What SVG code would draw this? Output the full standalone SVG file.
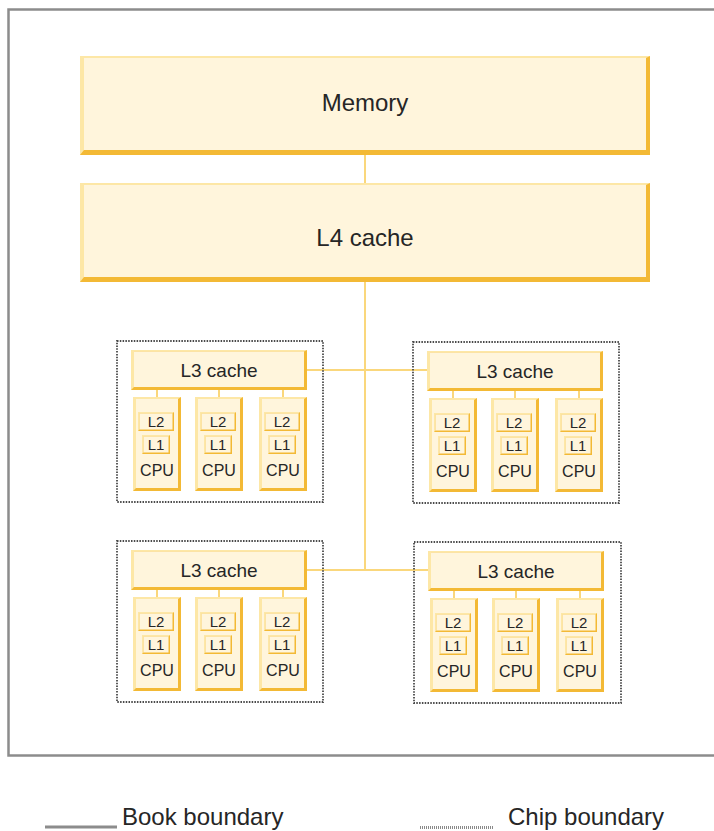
<svg xmlns="http://www.w3.org/2000/svg" width="714" height="831" viewBox="0 0 714 831">
<style>
.dk{fill:#f3b935}
.lt{fill:#fde7a6}
.fl{fill:#fff5dc}
.conn{stroke:#fad77c;stroke-width:2;fill:none}
.chipb{fill:none;stroke:#4a4a4a;stroke-width:1.8;stroke-dasharray:1.5 1.3}
.t{font-family:"Liberation Sans",Arial,sans-serif;fill:#262626;text-anchor:middle}
.big{font-size:24px}
.l3{font-size:19px}
.sm{font-size:15px}
.cpu{font-size:16px}
.leg{font-family:"Liberation Sans",Arial,sans-serif;fill:#262626;font-size:24px}
</style>
<rect width="714" height="831" fill="#ffffff"/>
<g id="book-boundary">
<rect x="8.5" y="9.5" width="720" height="746" fill="none" stroke="#8c8c8c" stroke-width="2.5"/>
</g>
<g id="connectors">
<line class="conn" x1="365" y1="155" x2="365" y2="183"/>
<line class="conn" x1="365" y1="282" x2="365" y2="570"/>
<line class="conn" x1="307" y1="370" x2="428" y2="370"/>
<line class="conn" x1="307" y1="570" x2="428" y2="570"/>
<line class="conn" x1="157" y1="390" x2="157" y2="397"/>
<line class="conn" x1="219" y1="390" x2="219" y2="397"/>
<line class="conn" x1="283" y1="390" x2="283" y2="397"/>
<line class="conn" x1="453" y1="391" x2="453" y2="398"/>
<line class="conn" x1="515" y1="391" x2="515" y2="398"/>
<line class="conn" x1="579" y1="391" x2="579" y2="398"/>
<line class="conn" x1="157" y1="590" x2="157" y2="597"/>
<line class="conn" x1="219" y1="590" x2="219" y2="597"/>
<line class="conn" x1="283" y1="590" x2="283" y2="597"/>
<line class="conn" x1="454" y1="591" x2="454" y2="598"/>
<line class="conn" x1="516" y1="591" x2="516" y2="598"/>
<line class="conn" x1="580" y1="591" x2="580" y2="598"/>
</g>
<g id="memory">
<rect class="dk" x="80" y="56" width="570" height="99"/>
<polygon class="lt" points="80,56 650,56 646,58 84,58 84,150 80,155"/>
<rect class="fl" x="84" y="58" width="562" height="92"/>
<text class="t big" x="365" y="111">Memory</text>
</g>
<g id="l4-cache">
<rect class="dk" x="80" y="183" width="570" height="99"/>
<polygon class="lt" points="80,183 650,183 646,185 84,185 84,277 80,282"/>
<rect class="fl" x="84" y="185" width="562" height="92"/>
<text class="t big" x="365" y="246">L4 cache</text>
</g>

<g id="chip-top-left" transform="translate(117,341)">
<rect class="chipb" x="0" y="0" width="206" height="161"/>
<g id="l3-top-left">
<rect class="dk" x="14" y="9" width="176" height="40"/>
<polygon class="lt" points="14,9 190,9 187,10.5 17,10.5 17,46 14,49"/>
<rect class="fl" x="17" y="10.5" width="170" height="35.5"/>
<text class="t l3" x="102" y="36">L3 cache</text>
</g>
<g id="cpu-tl-1" transform="translate(16,56)">
<rect class="dk" x="0" y="0" width="48" height="94"/><polygon class="lt" points="0,0 48,0 45,2 3,2 3,91 0,94"/><rect class="fl" x="3" y="2" width="42" height="89"/>
<rect class="dk" x="5" y="15" width="36" height="19"/><polygon class="lt" points="5,15 41,15 39.5,16.5 6.5,16.5 6.5,32.5 5,34"/><rect class="fl" x="6.5" y="16.5" width="33" height="16"/>
<text class="t sm" x="23" y="30">L2</text>
<rect class="dk" x="9" y="38" width="28" height="19"/><polygon class="lt" points="9,38 37,38 35.5,39.5 10.5,39.5 10.5,55.5 9,57"/><rect class="fl" x="10.5" y="39.5" width="25" height="16"/>
<text class="t sm" x="23" y="53">L1</text>
<text class="t cpu" x="24" y="79">CPU</text>
</g>
<g id="cpu-tl-2" transform="translate(78,56)">
<rect class="dk" x="0" y="0" width="48" height="94"/><polygon class="lt" points="0,0 48,0 45,2 3,2 3,91 0,94"/><rect class="fl" x="3" y="2" width="42" height="89"/>
<rect class="dk" x="5" y="15" width="36" height="19"/><polygon class="lt" points="5,15 41,15 39.5,16.5 6.5,16.5 6.5,32.5 5,34"/><rect class="fl" x="6.5" y="16.5" width="33" height="16"/>
<text class="t sm" x="23" y="30">L2</text>
<rect class="dk" x="9" y="38" width="28" height="19"/><polygon class="lt" points="9,38 37,38 35.5,39.5 10.5,39.5 10.5,55.5 9,57"/><rect class="fl" x="10.5" y="39.5" width="25" height="16"/>
<text class="t sm" x="23" y="53">L1</text>
<text class="t cpu" x="24" y="79">CPU</text>
</g>
<g id="cpu-tl-3" transform="translate(142,56)">
<rect class="dk" x="0" y="0" width="48" height="94"/><polygon class="lt" points="0,0 48,0 45,2 3,2 3,91 0,94"/><rect class="fl" x="3" y="2" width="42" height="89"/>
<rect class="dk" x="5" y="15" width="36" height="19"/><polygon class="lt" points="5,15 41,15 39.5,16.5 6.5,16.5 6.5,32.5 5,34"/><rect class="fl" x="6.5" y="16.5" width="33" height="16"/>
<text class="t sm" x="23" y="30">L2</text>
<rect class="dk" x="9" y="38" width="28" height="19"/><polygon class="lt" points="9,38 37,38 35.5,39.5 10.5,39.5 10.5,55.5 9,57"/><rect class="fl" x="10.5" y="39.5" width="25" height="16"/>
<text class="t sm" x="23" y="53">L1</text>
<text class="t cpu" x="24" y="79">CPU</text>
</g>
</g>

<g id="chip-top-right" transform="translate(413,342)">
<rect class="chipb" x="0" y="0" width="206" height="161"/>
<g id="l3-top-right">
<rect class="dk" x="14" y="9" width="176" height="40"/>
<polygon class="lt" points="14,9 190,9 187,10.5 17,10.5 17,46 14,49"/>
<rect class="fl" x="17" y="10.5" width="170" height="35.5"/>
<text class="t l3" x="102" y="36">L3 cache</text>
</g>
<g id="cpu-tr-1" transform="translate(16,56)">
<rect class="dk" x="0" y="0" width="48" height="94"/><polygon class="lt" points="0,0 48,0 45,2 3,2 3,91 0,94"/><rect class="fl" x="3" y="2" width="42" height="89"/>
<rect class="dk" x="5" y="15" width="36" height="19"/><polygon class="lt" points="5,15 41,15 39.5,16.5 6.5,16.5 6.5,32.5 5,34"/><rect class="fl" x="6.5" y="16.5" width="33" height="16"/>
<text class="t sm" x="23" y="30">L2</text>
<rect class="dk" x="9" y="38" width="28" height="19"/><polygon class="lt" points="9,38 37,38 35.5,39.5 10.5,39.5 10.5,55.5 9,57"/><rect class="fl" x="10.5" y="39.5" width="25" height="16"/>
<text class="t sm" x="23" y="53">L1</text>
<text class="t cpu" x="24" y="79">CPU</text>
</g>
<g id="cpu-tr-2" transform="translate(78,56)">
<rect class="dk" x="0" y="0" width="48" height="94"/><polygon class="lt" points="0,0 48,0 45,2 3,2 3,91 0,94"/><rect class="fl" x="3" y="2" width="42" height="89"/>
<rect class="dk" x="5" y="15" width="36" height="19"/><polygon class="lt" points="5,15 41,15 39.5,16.5 6.5,16.5 6.5,32.5 5,34"/><rect class="fl" x="6.5" y="16.5" width="33" height="16"/>
<text class="t sm" x="23" y="30">L2</text>
<rect class="dk" x="9" y="38" width="28" height="19"/><polygon class="lt" points="9,38 37,38 35.5,39.5 10.5,39.5 10.5,55.5 9,57"/><rect class="fl" x="10.5" y="39.5" width="25" height="16"/>
<text class="t sm" x="23" y="53">L1</text>
<text class="t cpu" x="24" y="79">CPU</text>
</g>
<g id="cpu-tr-3" transform="translate(142,56)">
<rect class="dk" x="0" y="0" width="48" height="94"/><polygon class="lt" points="0,0 48,0 45,2 3,2 3,91 0,94"/><rect class="fl" x="3" y="2" width="42" height="89"/>
<rect class="dk" x="5" y="15" width="36" height="19"/><polygon class="lt" points="5,15 41,15 39.5,16.5 6.5,16.5 6.5,32.5 5,34"/><rect class="fl" x="6.5" y="16.5" width="33" height="16"/>
<text class="t sm" x="23" y="30">L2</text>
<rect class="dk" x="9" y="38" width="28" height="19"/><polygon class="lt" points="9,38 37,38 35.5,39.5 10.5,39.5 10.5,55.5 9,57"/><rect class="fl" x="10.5" y="39.5" width="25" height="16"/>
<text class="t sm" x="23" y="53">L1</text>
<text class="t cpu" x="24" y="79">CPU</text>
</g>
</g>

<g id="chip-bottom-left" transform="translate(117,541)">
<rect class="chipb" x="0" y="0" width="206" height="161"/>
<g id="l3-bottom-left">
<rect class="dk" x="14" y="9" width="176" height="40"/>
<polygon class="lt" points="14,9 190,9 187,10.5 17,10.5 17,46 14,49"/>
<rect class="fl" x="17" y="10.5" width="170" height="35.5"/>
<text class="t l3" x="102" y="36">L3 cache</text>
</g>
<g id="cpu-bl-1" transform="translate(16,56)">
<rect class="dk" x="0" y="0" width="48" height="94"/><polygon class="lt" points="0,0 48,0 45,2 3,2 3,91 0,94"/><rect class="fl" x="3" y="2" width="42" height="89"/>
<rect class="dk" x="5" y="15" width="36" height="19"/><polygon class="lt" points="5,15 41,15 39.5,16.5 6.5,16.5 6.5,32.5 5,34"/><rect class="fl" x="6.5" y="16.5" width="33" height="16"/>
<text class="t sm" x="23" y="30">L2</text>
<rect class="dk" x="9" y="38" width="28" height="19"/><polygon class="lt" points="9,38 37,38 35.5,39.5 10.5,39.5 10.5,55.5 9,57"/><rect class="fl" x="10.5" y="39.5" width="25" height="16"/>
<text class="t sm" x="23" y="53">L1</text>
<text class="t cpu" x="24" y="79">CPU</text>
</g>
<g id="cpu-bl-2" transform="translate(78,56)">
<rect class="dk" x="0" y="0" width="48" height="94"/><polygon class="lt" points="0,0 48,0 45,2 3,2 3,91 0,94"/><rect class="fl" x="3" y="2" width="42" height="89"/>
<rect class="dk" x="5" y="15" width="36" height="19"/><polygon class="lt" points="5,15 41,15 39.5,16.5 6.5,16.5 6.5,32.5 5,34"/><rect class="fl" x="6.5" y="16.5" width="33" height="16"/>
<text class="t sm" x="23" y="30">L2</text>
<rect class="dk" x="9" y="38" width="28" height="19"/><polygon class="lt" points="9,38 37,38 35.5,39.5 10.5,39.5 10.5,55.5 9,57"/><rect class="fl" x="10.5" y="39.5" width="25" height="16"/>
<text class="t sm" x="23" y="53">L1</text>
<text class="t cpu" x="24" y="79">CPU</text>
</g>
<g id="cpu-bl-3" transform="translate(142,56)">
<rect class="dk" x="0" y="0" width="48" height="94"/><polygon class="lt" points="0,0 48,0 45,2 3,2 3,91 0,94"/><rect class="fl" x="3" y="2" width="42" height="89"/>
<rect class="dk" x="5" y="15" width="36" height="19"/><polygon class="lt" points="5,15 41,15 39.5,16.5 6.5,16.5 6.5,32.5 5,34"/><rect class="fl" x="6.5" y="16.5" width="33" height="16"/>
<text class="t sm" x="23" y="30">L2</text>
<rect class="dk" x="9" y="38" width="28" height="19"/><polygon class="lt" points="9,38 37,38 35.5,39.5 10.5,39.5 10.5,55.5 9,57"/><rect class="fl" x="10.5" y="39.5" width="25" height="16"/>
<text class="t sm" x="23" y="53">L1</text>
<text class="t cpu" x="24" y="79">CPU</text>
</g>
</g>

<g id="chip-bottom-right" transform="translate(414,542)">
<rect class="chipb" x="0" y="0" width="207" height="161"/>
<g id="l3-bottom-right">
<rect class="dk" x="14" y="9" width="176" height="40"/>
<polygon class="lt" points="14,9 190,9 187,10.5 17,10.5 17,46 14,49"/>
<rect class="fl" x="17" y="10.5" width="170" height="35.5"/>
<text class="t l3" x="102" y="36">L3 cache</text>
</g>
<g id="cpu-br-1" transform="translate(16,56)">
<rect class="dk" x="0" y="0" width="48" height="94"/><polygon class="lt" points="0,0 48,0 45,2 3,2 3,91 0,94"/><rect class="fl" x="3" y="2" width="42" height="89"/>
<rect class="dk" x="5" y="15" width="36" height="19"/><polygon class="lt" points="5,15 41,15 39.5,16.5 6.5,16.5 6.5,32.5 5,34"/><rect class="fl" x="6.5" y="16.5" width="33" height="16"/>
<text class="t sm" x="23" y="30">L2</text>
<rect class="dk" x="9" y="38" width="28" height="19"/><polygon class="lt" points="9,38 37,38 35.5,39.5 10.5,39.5 10.5,55.5 9,57"/><rect class="fl" x="10.5" y="39.5" width="25" height="16"/>
<text class="t sm" x="23" y="53">L1</text>
<text class="t cpu" x="24" y="79">CPU</text>
</g>
<g id="cpu-br-2" transform="translate(78,56)">
<rect class="dk" x="0" y="0" width="48" height="94"/><polygon class="lt" points="0,0 48,0 45,2 3,2 3,91 0,94"/><rect class="fl" x="3" y="2" width="42" height="89"/>
<rect class="dk" x="5" y="15" width="36" height="19"/><polygon class="lt" points="5,15 41,15 39.5,16.5 6.5,16.5 6.5,32.5 5,34"/><rect class="fl" x="6.5" y="16.5" width="33" height="16"/>
<text class="t sm" x="23" y="30">L2</text>
<rect class="dk" x="9" y="38" width="28" height="19"/><polygon class="lt" points="9,38 37,38 35.5,39.5 10.5,39.5 10.5,55.5 9,57"/><rect class="fl" x="10.5" y="39.5" width="25" height="16"/>
<text class="t sm" x="23" y="53">L1</text>
<text class="t cpu" x="24" y="79">CPU</text>
</g>
<g id="cpu-br-3" transform="translate(142,56)">
<rect class="dk" x="0" y="0" width="48" height="94"/><polygon class="lt" points="0,0 48,0 45,2 3,2 3,91 0,94"/><rect class="fl" x="3" y="2" width="42" height="89"/>
<rect class="dk" x="5" y="15" width="36" height="19"/><polygon class="lt" points="5,15 41,15 39.5,16.5 6.5,16.5 6.5,32.5 5,34"/><rect class="fl" x="6.5" y="16.5" width="33" height="16"/>
<text class="t sm" x="23" y="30">L2</text>
<rect class="dk" x="9" y="38" width="28" height="19"/><polygon class="lt" points="9,38 37,38 35.5,39.5 10.5,39.5 10.5,55.5 9,57"/><rect class="fl" x="10.5" y="39.5" width="25" height="16"/>
<text class="t sm" x="23" y="53">L1</text>
<text class="t cpu" x="24" y="79">CPU</text>
</g>
</g>

<g id="legend">
<rect x="45" y="825.5" width="72" height="3" fill="#8c8c8c"/>
<text class="leg" x="122" y="825">Book boundary</text>
<line x1="420" y1="827.5" x2="493" y2="827.5" stroke="#8a8a8a" stroke-width="3" stroke-dasharray="1 1"/>
<text class="leg" x="508" y="825">Chip boundary</text>
</g>
</svg>
